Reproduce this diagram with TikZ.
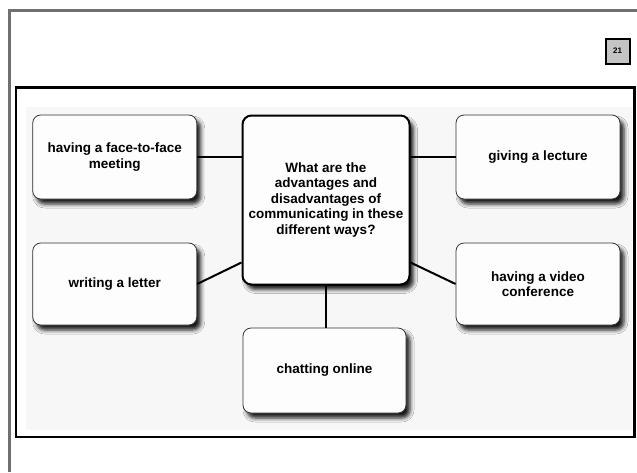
\documentclass[tikz,border=0pt]{standalone}
\usepackage{fontspec}
\setmainfont{Liberation Sans}
\usetikzlibrary{shadows.blur}
\definecolor{framegray}{RGB}{112,112,112}
\definecolor{panelgray}{RGB}{247,247,247}
\definecolor{boxfill}{RGB}{253,253,253}
\definecolor{numfill}{RGB}{196,196,196}
\begin{document}
\begin{tikzpicture}[x=1pt,y=-1pt,
  txt/.style={font=\bfseries\fontsize{13.5}{15.5}\selectfont, align=center},
  optbox/.style={txt, draw=black!80, line width=0.8pt, fill=boxfill, rounded corners=8pt,
    blur shadow={shadow xshift=4pt, shadow yshift=-5pt, shadow blur radius=4pt, shadow opacity=90},
    minimum width=164pt, minimum height=84pt, inner sep=2pt},
  hubbox/.style={txt, draw=black, line width=2pt, fill=boxfill, rounded corners=9pt,
    blur shadow={shadow xshift=4pt, shadow yshift=-5pt, shadow blur radius=4pt, shadow opacity=90},
    minimum width=167pt, minimum height=169pt, inner sep=2pt},
  link/.style={line width=2pt, black}]
\useasboundingbox (0,0) rectangle (637,472);
% outer page frame
\draw[line width=3pt, framegray] (9.5,472) -- (9.5,10.5) -- (637,10.5);
% page number
\node[draw, line width=2pt, fill=numfill, minimum width=24pt, minimum height=25pt, inner sep=0pt,
  font=\bfseries\fontsize{8}{9}\selectfont] (num) at (617.5,51) {21};
% inner frame and panel
\fill[panelgray] (26,107) rectangle (632,430);
\draw[line width=2.5pt] (16,87.5) rectangle (634.5,437);
% nodes
\node[hubbox] (c) at (326,200) {What are the\\advantages and\\disadvantages of\\communicating in these\\different ways?};
\node[optbox] (tl) at (114.75,157) {having a face-to-face\\meeting};
\node[optbox] (tr) at (538,157) {giving a lecture};
\node[optbox, minimum height=82pt] (ml) at (114.75,284) {writing a letter};
\node[optbox, minimum height=82pt] (mr) at (538,284) {having a video\\conference};
\node[optbox, minimum width=163pt, minimum height=85pt] (ch) at (324.5,370.5) {chatting online};
% connectors
\draw[link] (tl.east) -- (tl.east -| c.west);
\draw[link] (c.east |- tr.west) -- (tr.west);
\draw[link] (ml.east) -- ([yshift=23pt]c.south west);
\draw[link] ([yshift=23pt]c.south east) -- (mr.west);
\draw[link] (c.south) -- (c.south |- ch.north);
\end{tikzpicture}
\end{document}
